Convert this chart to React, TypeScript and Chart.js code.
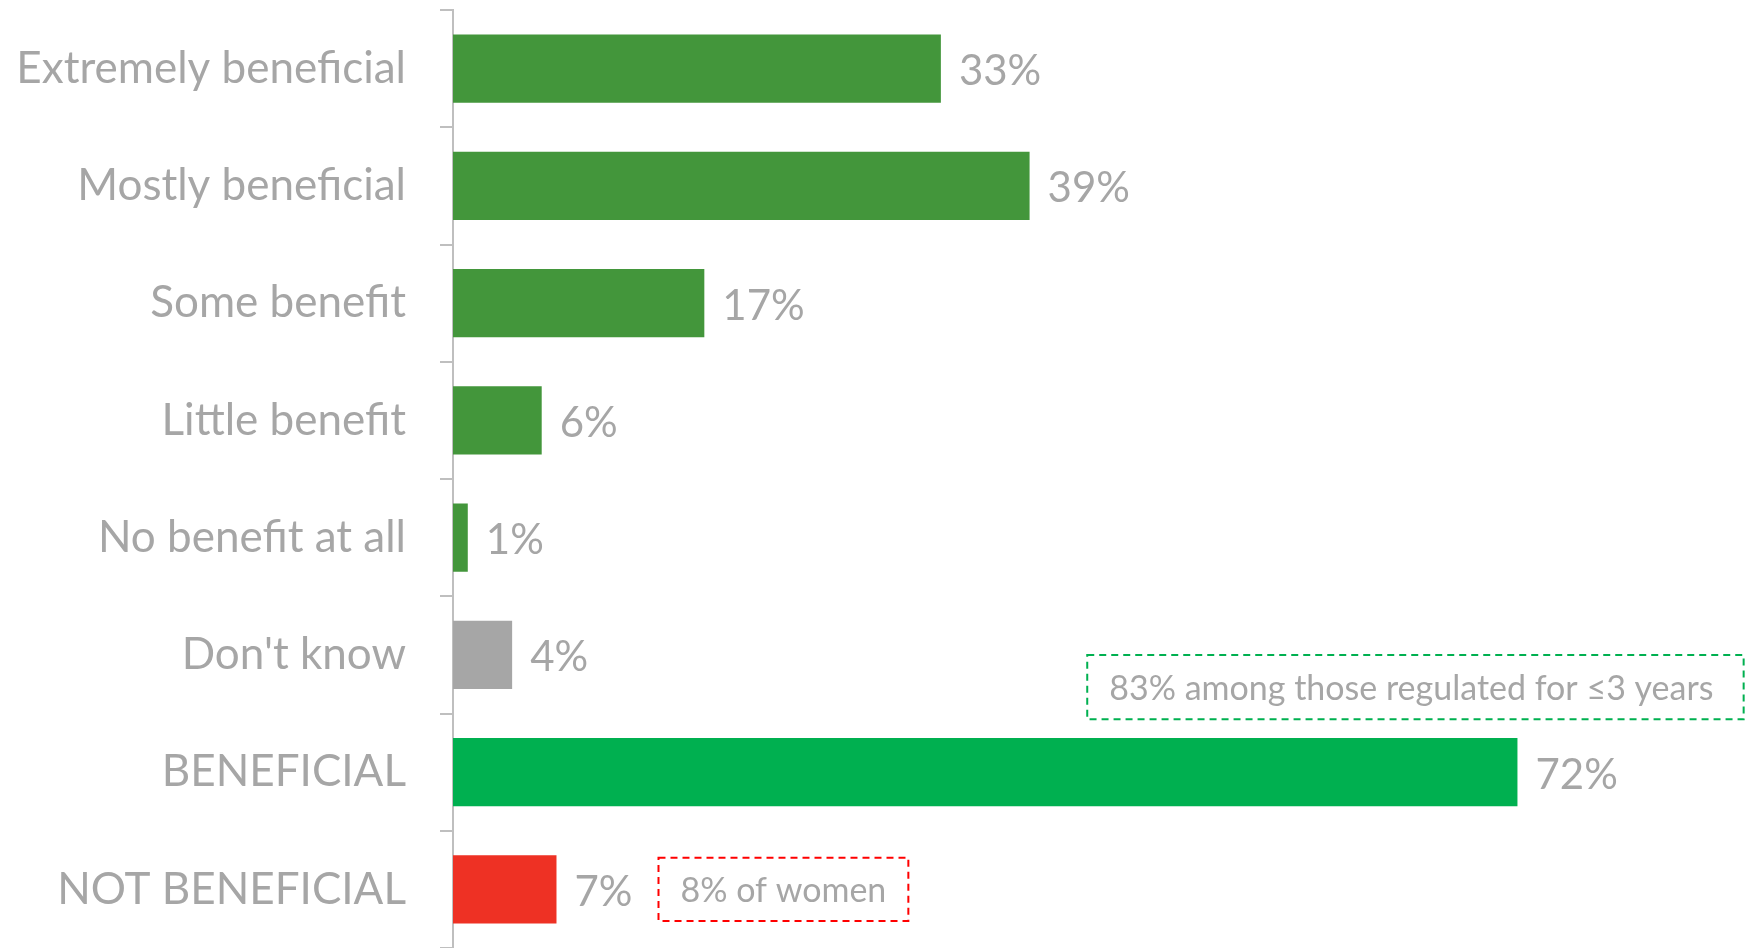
import { useEffect, useRef } from "react";
import { Chart, registerables } from "chart.js";

Chart.register(...registerables);

const categories = [
  "Extremely beneficial",
  "Mostly beneficial",
  "Some benefit",
  "Little benefit",
  "No benefit at all",
  "Don't know",
  "BENEFICIAL",
  "NOT BENEFICIAL",
];
const values = [33, 39, 17, 6, 1, 4, 72, 7];
const valueLabels = ["33%", "39%", "17%", "6%", "1%", "4%", "72%", "7%"];
const barColors = [
  "#43963B",
  "#43963B",
  "#43963B",
  "#43963B",
  "#43963B",
  "#A6A6A6",
  "#00B050",
  "#EE3124",
];
const noteTexts = ["83% among those regulated for \u22643 years", "8% of women"];
const noteColors = ["#00B050", "#FF0000"];
// boxes anchored to scale values: [xFrom, xTo, categoryFrom, categoryTo]
const noteAnchors = [
  [42.9, 87.3, 5.0, 5.55],
  [13.9, 30.8, 6.73, 7.27],
];

const FONT = "Lato, 'Open Sans', sans-serif";
const LABEL_SIZE = 44;
const VALUE_SIZE = 42;
const NOTE_SIZE = 34;
const TEXT_COLOR = "#A6A6A6";

const overlayPlugin = {
  id: "overlay",
  afterDatasetsDraw(chart: any) {
    const { ctx } = chart;
    const x = chart.scales.x;
    const y = chart.scales.y;
    const meta = chart.getDatasetMeta(0);
    ctx.save();
    ctx.fillStyle = TEXT_COLOR;
    ctx.font = `${VALUE_SIZE}px ${FONT}`;
    ctx.textAlign = "left";
    ctx.textBaseline = "middle";
    meta.data.forEach((bar: any, i: number) => {
      ctx.fillText(valueLabels[i], bar.x + 18, bar.y + 3);
    });
    noteTexts.forEach((t, i) => {
      const [x0, x1, c0, c1] = noteAnchors[i];
      const left = x.getPixelForValue(x0);
      const right = x.getPixelForValue(x1);
      const top = y.getPixelForValue(c0);
      const bottom = y.getPixelForValue(c1);
      ctx.setLineDash([7, 5]);
      ctx.lineWidth = 2;
      ctx.strokeStyle = noteColors[i];
      ctx.strokeRect(left, top, right - left, bottom - top);
      ctx.setLineDash([]);
      ctx.font = `${NOTE_SIZE}px ${FONT}`;
      ctx.fillStyle = TEXT_COLOR;
      ctx.fillText(t, left + 22, (top + bottom) / 2 + 2);
    });
    ctx.restore();
  },
};

export default function App() {
  const ref = useRef<HTMLCanvasElement>(null);
  useEffect(() => {
    document.body.style.margin = "0";
    const chart = new Chart(ref.current!, {
      type: "bar",
      data: {
        labels: categories,
        datasets: [
          {
            data: values,
            backgroundColor: barColors,
            barPercentage: 0.58,
            categoryPercentage: 1,
          },
        ],
      },
      options: {
        indexAxis: "y",
        animation: false,
        responsive: true,
        maintainAspectRatio: false,
        layout: { autoPadding: false, padding: { top: 10, right: 0, bottom: 0, left: 0 } },
        plugins: { legend: { display: false }, tooltip: { enabled: false } },
        scales: {
          x: { display: false, min: 0, max: 88 },
          y: {
            afterFit: (s: any) => {
              s.width = 453;
              s.paddingTop = 0;
              s.paddingBottom = 0;
            },
            border: { display: true, color: "#BFBFBF", width: 2 },
            grid: {
              drawOnChartArea: false,
              drawTicks: true,
              tickLength: 13,
              color: "#BFBFBF",
              lineWidth: 2,
            },
            ticks: {
              color: TEXT_COLOR,
              padding: 34,
              font: { family: FONT, size: LABEL_SIZE },
            },
          },
        },
      },
      plugins: [overlayPlugin],
    });
    return () => chart.destroy();
  }, []);
  return (
    <div style={{ position: "absolute", left: 0, top: 0, width: 1754, height: 948 }}>
      <canvas ref={ref} />
    </div>
  );
}
